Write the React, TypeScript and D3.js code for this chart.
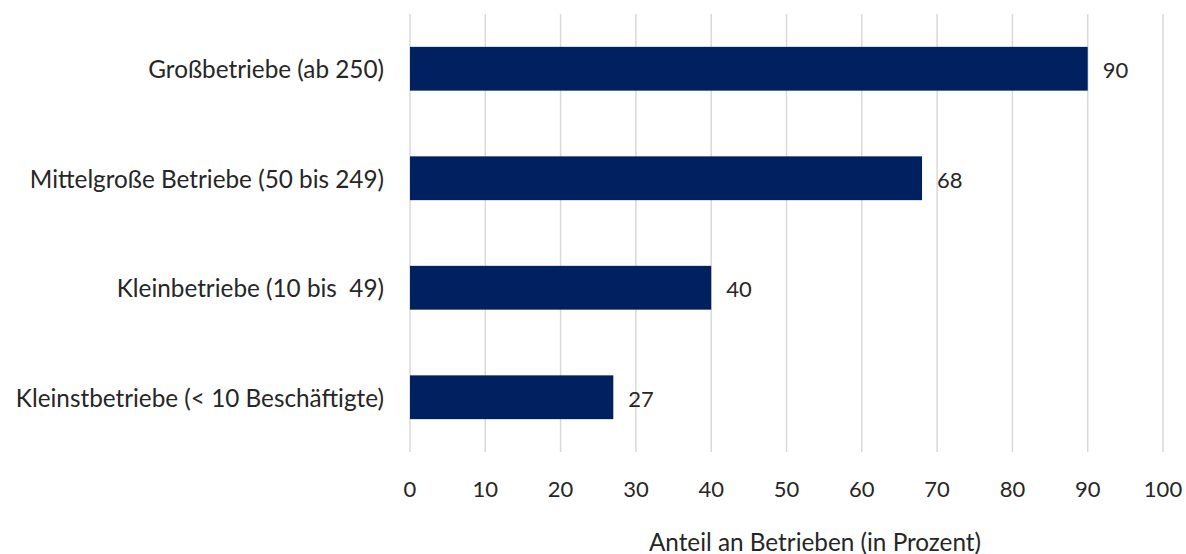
import React from "react";
import * as d3 from "d3";

const categories = [
  "Großbetriebe (ab 250)",
  "Mittelgroße Betriebe (50 bis 249)",
  "Kleinbetriebe (10 bis  49)",
  "Kleinstbetriebe (< 10 Beschäftigte)",
];
const values = [90, 68, 40, 27];
const xTicks = [0, 10, 20, 30, 40, 50, 60, 70, 80, 90, 100];
const axisTitle = "Anteil an Betrieben (in Prozent)";

const W = 1186;
const H = 554;
const left = 410;
const right = 1163;
const top = 14;
const bottom = 452;
const FONT = "Lato, 'Open Sans', sans-serif";
const TEXT = "#262626";

export default function App() {
  const x = d3.scaleLinear().domain([0, 100]).range([left, right]);
  const y = d3
    .scaleBand<string>()
    .domain(categories)
    .range([top, bottom])
    .paddingInner(0.6)
    .paddingOuter(0.3);

  return (
    <svg
      width={W}
      height={H}
      style={{ position: "absolute", left: 0, top: 0, background: "#fff" }}
      fontFamily={FONT}
    >
      {xTicks.map((t) => (
        <line
          key={"g" + t}
          x1={x(t)}
          x2={x(t)}
          y1={top}
          y2={bottom}
          stroke="#d9d9d9"
          strokeWidth={1.5}
        />
      ))}
      {categories.map((c, i) => (
        <g key={c}>
          <rect
            x={x(0)}
            y={y(c)}
            width={x(values[i]) - x(0)}
            height={y.bandwidth()}
            fill="#002060"
          />
          <text
            x={x(values[i]) + 15}
            y={(y(c) as number) + y.bandwidth() / 2 + 1}
            dominantBaseline="central"
            fontSize={22}
            fill={TEXT}
          >
            {values[i]}
          </text>
          <text
            x={384}
            y={(y(c) as number) + y.bandwidth() / 2}
            dominantBaseline="central"
            textAnchor="end"
            fontSize={24.3}
            fill={TEXT}
            style={{ whiteSpace: "pre" }}
          >
            {c}
          </text>
        </g>
      ))}
      {xTicks.map((t) => (
        <text
          key={"t" + t}
          x={x(t)}
          y={488}
          dominantBaseline="central"
          textAnchor="middle"
          fontSize={22}
          fill={TEXT}
        >
          {t}
        </text>
      ))}
      <text
        x={815}
        y={541}
        dominantBaseline="central"
        textAnchor="middle"
        fontSize={24.3}
        fill={TEXT}
      >
        {axisTitle}
      </text>
    </svg>
  );
}
